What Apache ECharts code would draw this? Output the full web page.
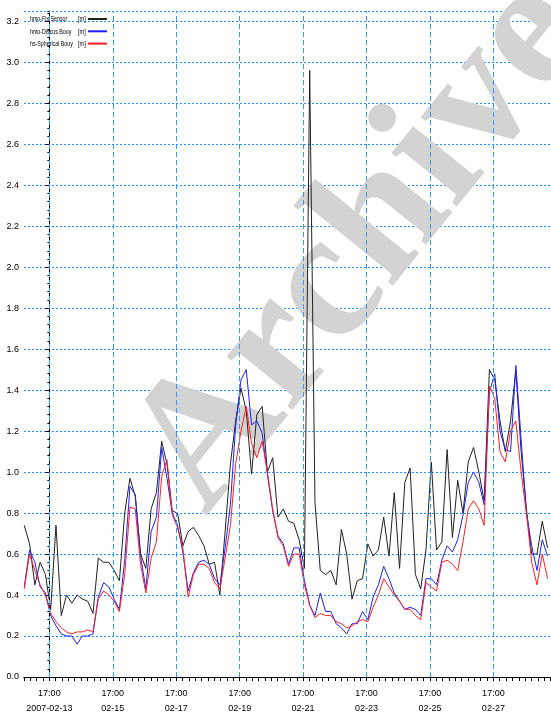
<!DOCTYPE html>
<html>
<head>
<meta charset="utf-8">
<script src="https://cdn.jsdelivr.net/npm/echarts@6/dist/echarts.min.js"></script>
<style>
html,body{margin:0;padding:0;background:#fff}
#chart{width:551px;height:714px}
</style>
</head>
<body>
<div id="chart"></div>
<script>
// time in hours from 2007-02-13 17:00, one sample every 4 hours
var startHour = -19
var stepHours = 4

var seriesNames = ['hmo-Fix Sensor', 'hmo-Discus Bouy', 'hs-Spherical Bouy']
var seriesUnit = '[m]'
var seriesColors = ['#222222', '#2020ff', '#ff2020']

var fixSensor = [
  0.74, 0.65, 0.45, 0.56, 0.50, 0.33, 0.74, 0.30, 0.40, 0.36,
  0.40, 0.38, 0.37, 0.31, 0.58, 0.56, 0.56, 0.52, 0.47, 0.80,
  0.97, 0.88, 0.60, 0.53, 0.82, 0.90, 1.15, 1.04, 0.81, 0.80,
  0.64, 0.71, 0.73, 0.69, 0.64, 0.55, 0.56, 0.40, 0.71, 1.04,
  1.25, 1.41, 1.30, 0.99, 1.28, 1.32, 1.00, 1.07, 0.78, 0.82,
  0.76, 0.75, 0.67, 0.53, 2.96, 0.85, 0.52, 0.50, 0.52, 0.45,
  0.72, 0.60, 0.38, 0.47, 0.48, 0.65, 0.59, 0.62, 0.78, 0.59,
  0.90, 0.53, 0.95, 1.02, 0.50, 0.43, 0.62, 1.05, 0.62, 0.66,
  1.11, 0.68, 0.96, 0.80, 1.05, 1.12, 1.00, 0.86, 1.50, 1.45,
  1.25, 1.10, 1.25, 1.50, 1.10, 0.82, 0.60, 0.60, 0.76, 0.63
]
var discusBouy = [
  0.44, 0.62, 0.56, 0.44, 0.41, 0.30, 0.25, 0.21, 0.20, 0.20,
  0.16, 0.20, 0.20, 0.21, 0.39, 0.46, 0.44, 0.38, 0.33, 0.57,
  0.93, 0.89, 0.59, 0.43, 0.71, 0.78, 1.12, 0.97, 0.80, 0.74,
  0.61, 0.42, 0.51, 0.56, 0.57, 0.55, 0.48, 0.45, 0.63, 0.84,
  1.23, 1.45, 1.50, 1.23, 1.25, 1.19, 0.99, 0.81, 0.69, 0.65,
  0.55, 0.63, 0.63, 0.47, 0.35, 0.30, 0.41, 0.32, 0.32, 0.26,
  0.24, 0.21, 0.26, 0.26, 0.32, 0.28, 0.39, 0.45, 0.54, 0.48,
  0.41, 0.37, 0.33, 0.34, 0.33, 0.30, 0.48, 0.48, 0.45, 0.57,
  0.64, 0.61, 0.67, 0.79, 0.95, 1.00, 0.95, 0.84, 1.39, 1.48,
  1.20, 1.11, 1.10, 1.52, 1.16, 0.80, 0.64, 0.52, 0.67, 0.59
]
var sphericalBouy = [
  0.43, 0.60, 0.52, 0.45, 0.40, 0.31, 0.27, 0.24, 0.22, 0.21,
  0.22, 0.22, 0.23, 0.22, 0.38, 0.42, 0.40, 0.37, 0.32, 0.50,
  0.83, 0.82, 0.55, 0.41, 0.58, 0.66, 0.98, 1.06, 0.79, 0.73,
  0.63, 0.39, 0.50, 0.55, 0.55, 0.53, 0.46, 0.43, 0.58, 0.74,
  1.04, 1.20, 1.32, 1.14, 1.07, 1.15, 1.00, 0.82, 0.68, 0.64,
  0.54, 0.60, 0.60, 0.45, 0.35, 0.29, 0.31, 0.30, 0.30, 0.27,
  0.26, 0.24, 0.25, 0.27, 0.28, 0.27, 0.34, 0.40, 0.48, 0.44,
  0.40, 0.37, 0.33, 0.33, 0.30, 0.28, 0.46, 0.44, 0.42, 0.56,
  0.57, 0.55, 0.52, 0.66, 0.82, 0.86, 0.82, 0.74, 1.42, 1.36,
  1.10, 1.05, 1.20, 1.25, 1.00, 0.80, 0.56, 0.45, 0.60, 0.48
]

// vertical grid lines at 17:00 every second day
var dayLines = [0, 48, 96, 144, 192, 240, 288, 336]

var font = '"Liberation Sans", Arial, sans-serif'

function toPoints(arr) {
  return arr.map(function (v, i) { return [startHour + i * stepHours, v] })
}
function pad(n) { return n < 10 ? '0' + n : '' + n }
function fmtX(v) {
  var k = v / 48
  if (Math.abs(k - Math.round(k)) > 1e-6) return ''
  var d = new Date(Date.UTC(2007, 1, 13, 17) + v * 3600000)
  var md = pad(d.getUTCMonth() + 1) + '-' + pad(d.getUTCDate())
  return '17:00\n' + (Math.round(k) === 0 ? '2007-' + md : md)
}

// small condensed legend in the top left corner of the plot
function legendItems() {
  var items = []
  seriesNames.forEach(function (name, i) {
    var cy = 19 + i * 12.3
    items.push({
      type: 'text', x: 30, y: cy, scaleX: 0.66, silent: true,
      style: { text: name, font: '8px ' + font, fill: '#000', align: 'left', verticalAlign: 'middle' }
    })
    items.push({
      type: 'text', x: 78, y: cy, scaleX: 0.7, silent: true,
      style: { text: seriesUnit, font: '8px ' + font, fill: '#000', align: 'left', verticalAlign: 'middle' }
    })
    items.push({
      type: 'rect', silent: true,
      shape: { x: 88, y: cy - 1, width: 19, height: 2 },
      style: { fill: seriesColors[i] }
    })
  })
  return items
}

var chart = echarts.init(document.getElementById('chart'))
var lists = [fixSensor, discusBouy, sphericalBouy]

var series = lists.map(function (arr, i) {
  return {
    name: seriesNames[i],
    type: 'line',
    data: toPoints(arr),
    symbol: 'none',
    color: seriesColors[i],
    lineStyle: { width: 1, color: seriesColors[i] },
    z: 3
  }
})
series.unshift({
  type: 'line',
  data: [],
  silent: true,
  z: 1,
  markLine: {
    silent: true,
    symbol: 'none',
    label: { show: false },
    lineStyle: { color: '#3399ff', type: [5, 3], width: 1 },
    data: dayLines.map(function (h) { return { xAxis: h } })
  }
})

var option = {
  animation: false,
  backgroundColor: '#fff',
  grid: { left: 24, right: 0, top: 11, bottom: 37, outerBoundsMode: 'none' },
  graphic: [{
    type: 'text',
    x: 240,
    y: 545,
    rotation: 51 * Math.PI / 180,
    z: 1,
    silent: true,
    style: {
      text: 'Archive',
      font: 'bold 184px "Liberation Serif", serif',
      fill: '#d3d3d3',
      align: 'left',
      verticalAlign: 'bottom'
    }
  }, {
    type: 'group',
    z: 10,
    children: legendItems()
  }],
  xAxis: [{
    type: 'value',
    min: -19.2,
    max: 379.6,
    interval: 4.8,
    position: 'bottom',
    axisLine: { lineStyle: { color: '#000', width: 1 } },
    axisTick: { length: 4, lineStyle: { color: '#000' } },
    axisLabel: {
      formatter: fmtX,
      fontFamily: font,
      fontSize: 9,
      lineHeight: 15,
      color: '#000',
      margin: 9
    },
    splitLine: { show: false }
  }, {
    type: 'value',
    min: -19.2,
    max: 379.6,
    position: 'top',
    axisLine: { show: true, lineStyle: { color: '#000', width: 1 } },
    axisTick: { show: false },
    axisLabel: { show: false },
    splitLine: { show: false }
  }],
  yAxis: [{
    type: 'value',
    min: 0,
    max: 3.25,
    interval: 0.2,
    axisLine: { show: true, lineStyle: { color: '#000', width: 1 } },
    axisTick: { show: true, length: 4, lineStyle: { color: '#000' } },
    axisLabel: {
      formatter: function (v) { return v.toFixed(1) },
      fontFamily: font,
      fontSize: 9,
      color: '#000',
      margin: 5,
      showMaxLabel: false
    },
    splitLine: { show: true, lineStyle: { color: '#1e90ff', type: [2, 2], width: 1 } }
  }, {
    type: 'value',
    min: 0,
    max: 3.25,
    interval: 0.04,
    position: 'left',
    axisLine: { show: false },
    axisTick: { show: true, length: 2, lineStyle: { color: '#000' } },
    axisLabel: { show: false },
    splitLine: { show: false }
  }],
  series: series
}

chart.setOption(option)
</script>
</body>
</html>
